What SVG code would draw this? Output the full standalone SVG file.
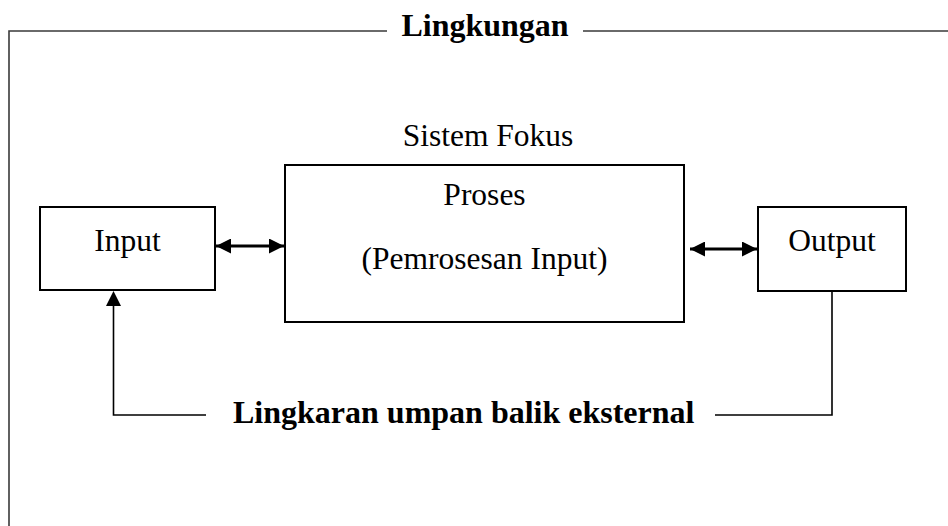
<svg xmlns="http://www.w3.org/2000/svg" width="948" height="526" viewBox="0 0 948 526">
  <style>
    .t { font-family: "Liberation Serif", "Times New Roman", serif; font-size: 31.5px; fill: #000; }
    .b { font-weight: bold; font-size: 32px; }
    .box { fill: #fff; stroke: #000; stroke-width: 2; }
    .frame { fill: none; stroke: #3a3a3a; stroke-width: 1.6; }
    .ln { fill: none; stroke: #000; stroke-width: 1.6; }
    .arr { fill: none; stroke: #000; stroke-width: 3; }
  </style>
  <defs>
    <marker id="ah" viewBox="0 0 10 10" refX="10" refY="5" markerWidth="5.3" markerHeight="5" markerUnits="strokeWidth" orient="auto-start-reverse">
      <path d="M0,0 L10,5 L0,10 Z" fill="#000"/>
    </marker>
  </defs>
  <rect width="948" height="526" fill="#fff"/>

  <g id="lingkungan">
    <path class="frame" d="M387,31 H9 V526 M583,31 H948"/>
    <text class="t b" x="485" y="36" text-anchor="middle">Lingkungan</text>
  </g>

  <g id="sistem-fokus">
    <text class="t" x="488" y="146" text-anchor="middle">Sistem Fokus</text>
  </g>

  <g id="proses">
    <rect class="box" x="285" y="165" width="399" height="157"/>
    <text class="t" x="484.5" y="205" text-anchor="middle">Proses</text>
    <text class="t" x="484.5" y="269" text-anchor="middle">(Pemrosesan Input)</text>
  </g>

  <g id="input">
    <rect class="box" x="40" y="207" width="175" height="83"/>
    <text class="t" x="127.5" y="251" text-anchor="middle">Input</text>
  </g>

  <g id="output">
    <rect class="box" x="758" y="207" width="148" height="84"/>
    <text class="t" x="832" y="251" text-anchor="middle">Output</text>
  </g>

  <g id="connectors">
    <line class="arr" x1="216" y1="246" x2="284" y2="246" marker-start="url(#ah)" marker-end="url(#ah)"/>
    <line class="arr" x1="690" y1="249" x2="757" y2="249" marker-start="url(#ah)" marker-end="url(#ah)"/>
    <path class="ln" d="M832,291 V415 H715"/>
    <path class="ln" d="M206,415 H113.5 V305"/>
    <path d="M113.5,291 L106,306 L121,306 Z" fill="#000"/>
  </g>

  <g id="umpan-balik">
    <text class="t b" x="233" y="423">Lingkaran umpan balik eksternal</text>
  </g>
</svg>
